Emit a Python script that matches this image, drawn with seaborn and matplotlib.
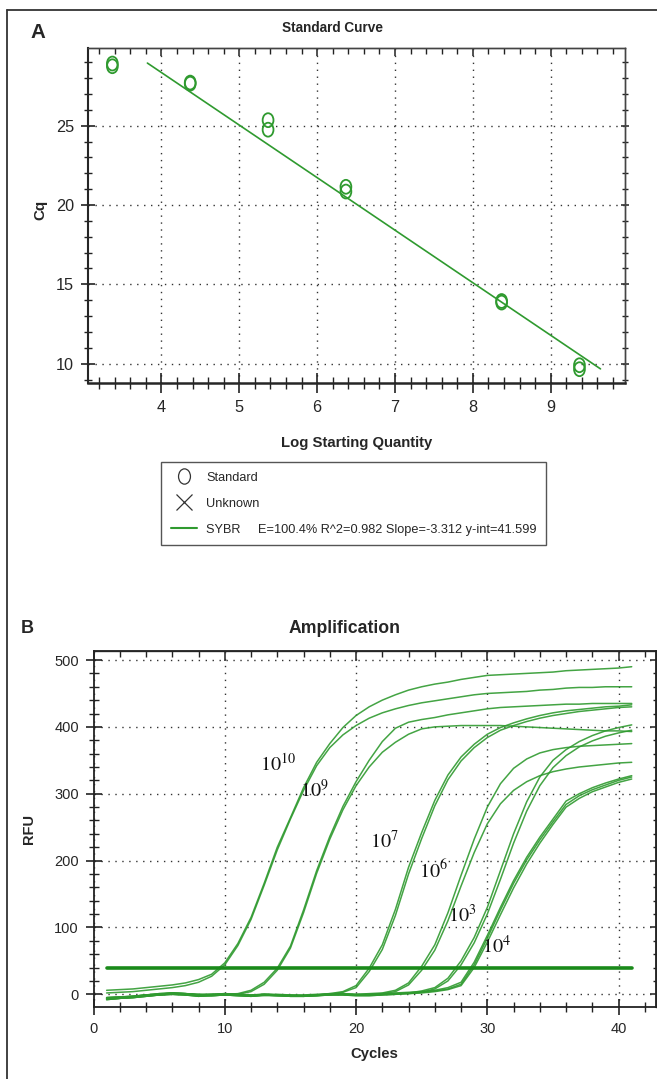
import numpy as np
import pandas as pd
import matplotlib
matplotlib.use("Agg")
import matplotlib.pyplot as plt
import seaborn as sns
from matplotlib import font_manager as fm
from matplotlib.markers import MarkerStyle
from matplotlib.path import Path
from matplotlib.transforms import Affine2D
from matplotlib.lines import Line2D
from matplotlib.ticker import MultipleLocator

# ---------------- Panel A data: standard curve ----------------
log_qty = [3.37, 3.37, 4.37, 4.37, 5.37, 5.37, 6.37, 6.37, 8.37, 8.37, 9.37, 9.37]
cq_values = [28.75, 28.92, 27.65, 27.72, 25.35, 24.75, 21.15, 20.85, 13.95, 13.85, 9.9, 9.65]
fit_x = [3.82, 9.64]
fit_cq = [28.95, 9.67]
x_ticks_a = [4, 5, 6, 7, 8, 9]
y_ticks_a = [10, 15, 20, 25]
legend_labels = ["Standard", "Unknown",
                 "SYBR     E=100.4% R^2=0.982 Slope=-3.312 y-int=41.599"]

# ---------------- Panel B data: amplification curves ----------------
cycles = list(range(1, 42))
rfu_1e10_a = [6, 7, 8, 10, 12, 14, 17, 22, 30, 47, 76, 115, 166, 220, 264, 309, 347, 375, 399, 417,
              430, 440, 448, 455, 460, 464, 467, 471, 474, 477, 478, 479, 480, 481, 482, 484, 485,
              486, 487, 488, 490]
rfu_1e10_b = [2, 3, 4, 6, 8, 10, 13, 18, 27, 44, 73, 112, 163, 216, 262, 305, 342, 369, 388, 402,
              413, 421, 427, 432, 436, 439, 442, 445, 448, 450, 451, 452, 453, 455, 456, 458, 459,
              459, 460, 460, 460]
rfu_1e9_a = [-5, -4, -3, -1, 1, 2, 1, 0, -1, 0, 1, 6, 18, 39, 72, 126, 185, 236, 281, 318,
             350, 378, 398, 407, 411, 414, 418, 421, 424, 427, 429, 430, 431, 432, 433, 434, 434,
             435, 435, 435, 435]
rfu_1e9_b = [-7, -6, -4, -2, 0, 1, 0, -1, -2, -1, 0, 4, 15, 36, 69, 122, 181, 232, 276, 312,
             340, 362, 377, 389, 397, 400, 401, 402, 402, 402, 402, 401, 400, 399, 398, 397, 396,
             395, 394, 394, 393]
rfu_1e7_a = [-6, -5, -4, -2, -1, 1, 0, -2, -1, 0, -1, -2, 0, -1, -2, -2, -1, 1, 4, 13,
             39, 74, 127, 190, 242, 290, 328, 355, 374, 389, 399, 406, 412, 417, 421, 424, 426,
             428, 430, 431, 433]
rfu_1e7_b = [-8, -6, -5, -3, -1, 0, -1, -3, -2, -1, -2, -3, -1, -2, -3, -3, -2, 0, 3, 10,
             34, 67, 118, 180, 233, 282, 321, 349, 369, 384, 395, 402, 408, 413, 417, 420, 423,
             425, 427, 429, 430]
rfu_1e6_a = [-5, -4, -3, -1, 0, 2, 1, -1, 0, 1, 0, -1, 0, -1, -1, -2, -1, 0, 1, 0,
             1, 2, 6, 17, 42, 74, 122, 178, 232, 280, 315, 338, 352, 361, 366, 369, 371,
             372, 373, 374, 375]
rfu_1e6_b = [-7, -6, -4, -2, -1, 1, 0, -2, -1, 0, -1, -2, -1, -2, -2, -3, -2, -1, 0, -1,
             0, 1, 4, 14, 36, 66, 110, 162, 212, 255, 285, 305, 318, 327, 333, 337, 340,
             342, 344, 346, 347]
rfu_1e3_a = [-6, -5, -3, -1, 0, 2, 1, -1, 0, 0, -1, -2, 0, -1, -2, -2, -1, 0, 0, -1,
             -1, 0, 1, 2, 5, 10, 24, 50, 85, 130, 185, 240, 288, 325, 350, 366, 378,
             387, 394, 399, 403]
rfu_1e3_b = [-8, -6, -5, -3, -1, 0, -1, -3, -2, -1, -2, -3, -1, -2, -3, -3, -2, -1, -1, -2,
             -2, -1, 0, 1, 3, 8, 20, 44, 77, 120, 172, 226, 274, 312, 339, 357, 370,
             379, 386, 391, 395]
rfu_1e4_a = [-5, -4, -3, -1, 1, 2, 1, 0, 0, 1, 0, -1, 0, 0, -1, -1, 0, 1, 1, 0,
             0, 1, 2, 3, 4, 6, 10, 18, 48, 88, 130, 170, 205, 235, 262, 289, 300,
             309, 316, 322, 327]
rfu_1e4_b = [-6, -5, -4, -2, 0, 1, 0, -1, -1, 0, -1, -2, -1, -1, -2, -2, -1, 0, 0, -1,
             -1, 0, 1, 2, 3, 5, 8, 15, 44, 84, 126, 166, 201, 231, 258, 284, 297,
             306, 313, 320, 325]
rfu_1e4_c = [-7, -6, -5, -3, -1, 0, -1, -2, -2, -1, -2, -3, -2, -2, -3, -3, -2, -1, -1, -2,
             -2, -1, 0, 1, 2, 4, 7, 13, 40, 78, 119, 159, 195, 226, 254, 280, 293,
             303, 310, 317, 322]
threshold_rfu = 40
threshold_cycles = [1, 41]
curve_labels = [r"$10^{10}$", r"$10^{9}$", r"$10^{7}$", r"$10^{6}$", r"$10^{3}$", r"$10^{4}$"]
label_cycle = [12.7, 15.7, 21.1, 24.8, 27.0, 29.6]
label_rfu = [335, 295, 218, 174, 108, 61]

# ---------------- style ----------------
sns.set_style("ticks")
avail = {f.name for f in fm.fontManager.ttflist}
NARROW = "Liberation Sans Narrow" if "Liberation Sans Narrow" in avail else "Liberation Sans"
nf = 1.0 if NARROW == "Liberation Sans Narrow" else 0.87
plt.rcParams["font.family"] = ["Liberation Sans", "DejaVu Sans"]
plt.rcParams["mathtext.fontset"] = "stix"

GREEN = "#2f9a2f"
TICKC = "#222222"
W, H = 657, 1079
fig = plt.figure(figsize=(W / 100, H / 100), dpi=100)
fig.patch.set_facecolor("white")


def fx(px):
    return px / W


def fy(py):
    return 1 - py / H


def frame_ticks(ax, xmin_step, ymin_step, top_len, right_len):
    """Add tick marks on the top and right frame edges (no labels)."""
    sx = ax.secondary_xaxis("top")
    sx.set_xticks(ax.get_xticks())
    sx.xaxis.set_minor_locator(MultipleLocator(xmin_step))
    sx.tick_params(which="both", direction="in", labeltop=False, color=TICKC)
    sx.tick_params(which="major", length=top_len[0], width=1.1)
    sx.tick_params(which="minor", length=top_len[1], width=1.0)
    sx.spines["top"].set_linewidth(1.0)
    sx.spines["top"].set_color("#444444")
    sy = ax.secondary_yaxis("right")
    sy.set_yticks(ax.get_yticks())
    sy.yaxis.set_minor_locator(MultipleLocator(ymin_step))
    sy.tick_params(which="both", direction="inout", labelright=False, color=TICKC)
    sy.tick_params(which="major", length=right_len[0], width=1.1)
    sy.tick_params(which="minor", length=right_len[1], width=1.0)
    sy.spines["right"].set_linewidth(1.0)
    sy.spines["right"].set_color("#444444")


# outer frame (top + left edges visible)
fig.add_artist(Line2D([fx(7), 1.0], [fy(10), fy(10)], transform=fig.transFigure,
                      color="#333333", lw=1.3))
fig.add_artist(Line2D([fx(7), fx(7)], [0, fy(10)], transform=fig.transFigure,
                      color="#333333", lw=1.3))

# ================= Panel A =================
axA = fig.add_axes([fx(88), fy(383), fx(625 - 88), (383 - 48) / H])
ell = Path.unit_circle().transformed(Affine2D().scale(0.78, 1.0))
ell_marker = MarkerStyle(ell)

sns.lineplot(x=fit_x, y=fit_cq, ax=axA, color=GREEN, lw=1.2)
sns.scatterplot(x=log_qty, y=cq_values, ax=axA, marker=ell_marker, s=100,
                color=GREEN, facecolor="none", edgecolor=GREEN, linewidth=1.3, zorder=3)

axA.set_xlim(3.057, 9.955)
axA.set_ylim(8.78, 29.9)
axA.set_xticks(x_ticks_a)
axA.set_yticks(y_ticks_a)
axA.xaxis.set_minor_locator(MultipleLocator(0.2))
axA.yaxis.set_minor_locator(MultipleLocator(1))
axA.grid(True, which="major", linestyle=(0, (1, 4)), color="#333333", lw=1.0)
axA.tick_params(which="both", direction="inout", top=False, right=False, color=TICKC)
axA.tick_params(axis="x", which="major", length=14, width=1.2, pad=5)
axA.tick_params(axis="x", which="minor", length=8, width=1.0)
axA.tick_params(axis="y", which="major", length=10, width=1.2, pad=5)
axA.tick_params(axis="y", which="minor", length=6, width=1.0)
for lab in axA.get_xticklabels() + axA.get_yticklabels():
    lab.set_fontfamily(NARROW)
    lab.set_fontsize(13.5 * nf)
axA.spines["bottom"].set_linewidth(1.8)
axA.spines["left"].set_linewidth(1.5)
for s in ["top", "right"]:
    axA.spines[s].set_linewidth(1.0)
    axA.spines[s].set_color("#444444")
frame_ticks(axA, 0.2, 1, (6, 4), (6, 4))

axA.set_xlabel("Log Starting Quantity", fontfamily=NARROW, fontweight="bold", fontsize=12.3 * nf)
axA.xaxis.set_label_coords((356.5 - 88) / 537, (383 - 447) / 335)
axA.xaxis.label.set_va("baseline")
axA.set_ylabel("Cq", fontfamily=NARROW, fontweight="bold", fontsize=12.5 * nf)
axA.yaxis.set_label_coords((40 - 88) / 537, (383 - 210) / 335)
axA.yaxis.label.set_va("center")
axA.set_title("Standard Curve", fontfamily=NARROW, fontweight="bold", fontsize=11.3 * nf,
              x=(333 - 88) / 537, y=(383 - 31.7) / 335, pad=0)
fig.text(fx(38), fy(38.3), "A", fontfamily=NARROW, fontweight="bold", fontsize=17 * nf,
         ha="center", va="baseline")

# legend
h_std = Line2D([], [], linestyle="none", marker=ell_marker, markersize=11,
               markerfacecolor="none", markeredgecolor="#333333", markeredgewidth=0.9)
h_unk = Line2D([], [], linestyle="none", marker="x", markersize=11,
               markeredgecolor="#333333", markeredgewidth=0.9)
h_fit = Line2D([], [], color=GREEN, lw=1.5)
leg = fig.legend([h_std, h_unk, h_fit], legend_labels, loc="upper left",
                 bbox_to_anchor=(fx(161), fy(462)), borderaxespad=0, frameon=True,
                 fancybox=False, edgecolor="#555555", framealpha=1,
                 prop={"family": NARROW, "size": 9.2},
                 handlelength=2.1, handletextpad=0.7, borderpad=0.75, labelspacing=1.1)
leg.get_frame().set_linewidth(1.0)

# ================= Panel B =================
axB = fig.add_axes([fx(93.5), fy(1007), fx(656 - 93.5), (1007 - 651) / H])
curves = {
    "1e10_a": rfu_1e10_a, "1e10_b": rfu_1e10_b,
    "1e9_a": rfu_1e9_a, "1e9_b": rfu_1e9_b,
    "1e7_a": rfu_1e7_a, "1e7_b": rfu_1e7_b,
    "1e6_a": rfu_1e6_a, "1e6_b": rfu_1e6_b,
    "1e3_a": rfu_1e3_a, "1e3_b": rfu_1e3_b,
    "1e4_a": rfu_1e4_a, "1e4_b": rfu_1e4_b, "1e4_c": rfu_1e4_c,
}
df = pd.concat([pd.DataFrame({"cycle": cycles, "rfu": v, "well": k}) for k, v in curves.items()],
               ignore_index=True)
sns.lineplot(data=df, x="cycle", y="rfu", units="well", estimator=None, color=GREEN,
             lw=1.1, alpha=0.9, ax=axB, legend=False)
sns.lineplot(x=threshold_cycles, y=[threshold_rfu] * len(threshold_cycles), ax=axB,
             color="#1a8a1a", lw=2.6)

for lab, cx, cy in zip(curve_labels, label_cycle, label_rfu):
    axB.text(cx, cy, lab, fontsize=14.5, ha="left", va="baseline", color="#111111")

axB.set_xlim(0, 42.85)
axB.set_ylim(-19, 513.5)
axB.xaxis.set_major_locator(MultipleLocator(10))
axB.yaxis.set_major_locator(MultipleLocator(100))
axB.xaxis.set_minor_locator(MultipleLocator(2))
axB.yaxis.set_minor_locator(MultipleLocator(20))
axB.grid(True, which="major", linestyle=(0, (1, 4)), color="#333333", lw=1.0)
axB.tick_params(which="both", direction="inout", top=False, right=False, color=TICKC,
                labelsize=10.5)
axB.tick_params(which="major", length=11, width=1.2, pad=5)
axB.tick_params(which="minor", length=7, width=1.0)
for s in axB.spines.values():
    s.set_linewidth(1.3)
    s.set_color("#222222")
frame_ticks(axB, 2, 20, (7, 4), (8, 5))

axB.set_xlabel("Cycles", fontweight="bold", fontsize=10.7)
axB.xaxis.set_label_coords((374 - 93.5) / 562.5, (1007 - 1058) / 356)
axB.xaxis.label.set_va("baseline")
axB.set_ylabel("RFU", fontweight="bold", fontsize=10.5)
axB.yaxis.set_label_coords((29.3 - 93.5) / 562.5, (1007 - 829) / 356)
axB.yaxis.label.set_va("center")
axB.set_title("Amplification", fontweight="bold", fontsize=12.7,
              x=(344.6 - 93.5) / 562.5, y=(1007 - 633) / 356, pad=0)
fig.text(fx(27), fy(633), "B", fontweight="bold", fontsize=13, ha="center", va="baseline")

fig.savefig("out.png", dpi=100, facecolor="white")
